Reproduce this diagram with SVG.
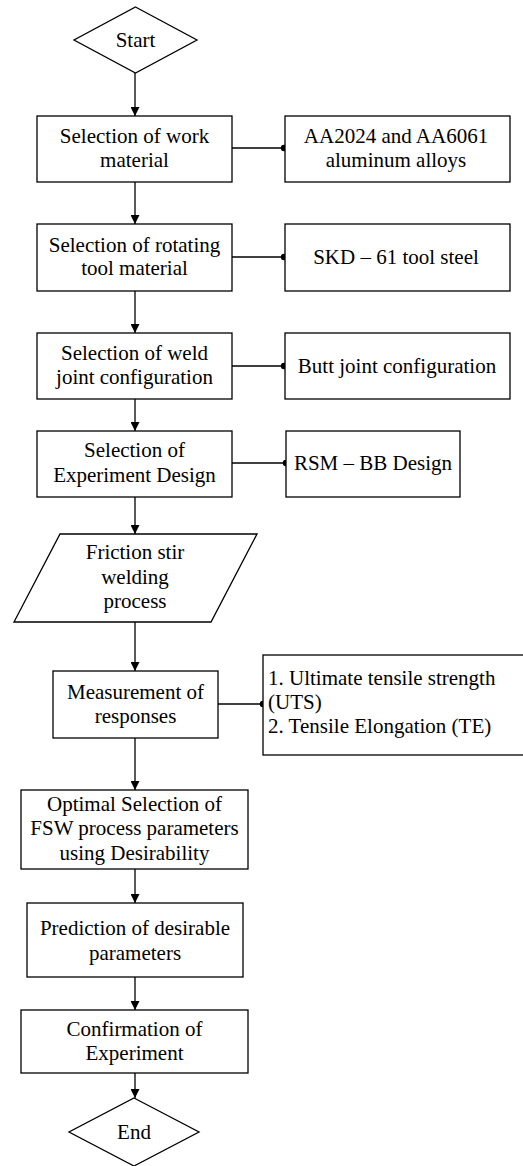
<svg xmlns="http://www.w3.org/2000/svg" width="523" height="1166" viewBox="0 0 523 1166">
<defs>
<marker id="arrow" markerUnits="userSpaceOnUse" markerWidth="9" markerHeight="9" refX="9" refY="4.5" orient="auto">
<path d="M0,0 L9,4.5 L0,9 Z" fill="#000"/>
</marker>
<marker id="dot" markerUnits="userSpaceOnUse" markerWidth="8" markerHeight="8" refX="4" refY="4">
<circle cx="4" cy="4" r="3.2" fill="#000"/>
</marker>
</defs>
<style>
.s{fill:#fff;stroke:#000;stroke-width:1.3}
text{font-family:'Liberation Serif','Times New Roman',Tinos,'DejaVu Serif',serif;font-size:21px;fill:#000}
.t{text-anchor:middle}
.l{text-anchor:start}
.c{fill:none;stroke:#000;stroke-width:1.3}
.a{marker-end:url(#arrow)}
.d{marker-end:url(#dot)}
</style>
<rect width="523" height="1166" fill="#fff"/>
<g id="connectors">
<line class="c a" x1="135" y1="73" x2="135" y2="116"/>
<line class="c a" x1="135" y1="182" x2="135" y2="224"/>
<line class="c a" x1="135" y1="291" x2="135" y2="333"/>
<line class="c a" x1="135" y1="399" x2="135" y2="431"/>
<line class="c a" x1="135" y1="497" x2="135" y2="534"/>
<line class="c a" x1="135" y1="622" x2="135" y2="671"/>
<line class="c a" x1="135" y1="738" x2="135" y2="790"/>
<line class="c a" x1="135" y1="869" x2="135" y2="903"/>
<line class="c a" x1="135" y1="977" x2="135" y2="1010"/>
<line class="c a" x1="135" y1="1073" x2="135" y2="1098"/>
<line class="c d" x1="232" y1="148" x2="284" y2="148"/>
<line class="c d" x1="232" y1="257" x2="284" y2="257"/>
<line class="c d" x1="232" y1="366" x2="284" y2="366"/>
<line class="c d" x1="232" y1="463" x2="286" y2="463"/>
<line class="c d" x1="218" y1="704" x2="263" y2="704"/>
</g>
<g id="start">
<polygon class="s" points="135.5,7 197,40 135.5,73 74,40"/>
<text class="t" x="135.5" y="47" font-family="Liberation Serif, serif">Start</text>
</g>
<g id="work-material">
<rect class="s" x="37" y="116" width="195" height="66"/>
<text class="t" x="134.5" y="143">Selection of work</text>
<text class="t" x="134.5" y="167">material</text>
</g>
<g id="alloys">
<rect class="s" x="285" y="116" width="225" height="66"/>
<text class="t" x="396" y="143">AA2024 and AA6061</text>
<text class="t" x="396" y="167">aluminum alloys</text>
</g>
<g id="tool-material">
<rect class="s" x="37" y="224" width="195" height="67"/>
<text class="t" x="134.5" y="252">Selection of rotating</text>
<text class="t" x="134.5" y="275">tool material</text>
</g>
<g id="tool-steel">
<rect class="s" x="285" y="224" width="225" height="67"/>
<text class="t" x="396" y="264">SKD – 61 tool steel</text>
</g>
<g id="weld-joint">
<rect class="s" x="37" y="333" width="195" height="66"/>
<text class="t" x="134.5" y="360">Selection of weld</text>
<text class="t" x="134.5" y="384">joint configuration</text>
</g>
<g id="butt-joint">
<rect class="s" x="285" y="333" width="225" height="66"/>
<text class="t" x="397" y="373">Butt joint configuration</text>
</g>
<g id="experiment-design">
<rect class="s" x="37" y="431" width="195" height="66"/>
<text class="t" x="134.5" y="457">Selection of</text>
<text class="t" x="134.5" y="482">Experiment Design</text>
</g>
<g id="rsm">
<rect class="s" x="286" y="431" width="174" height="66"/>
<text class="t" x="373" y="470">RSM – BB Design</text>
</g>
<g id="fsw-process">
<polygon class="s" points="60,534 257,534 211,622 14,622"/>
<text class="t" x="135" y="559">Friction stir</text>
<text class="t" x="135" y="584">welding</text>
<text class="t" x="135" y="608">process</text>
</g>
<g id="measurement">
<rect class="s" x="53" y="671" width="165" height="67"/>
<text class="t" x="135.5" y="699">Measurement of</text>
<text class="t" x="135.5" y="723">responses</text>
</g>
<g id="responses">
<rect class="s" x="263" y="655" width="265" height="100"/>
<text class="l" x="268" y="685">1. Ultimate tensile strength</text>
<text class="l" x="268" y="709">(UTS)</text>
<text class="l" x="268" y="733">2. Tensile Elongation (TE)</text>
</g>
<g id="optimal-selection">
<rect class="s" x="21" y="790" width="227" height="79"/>
<text class="t" x="134.5" y="811">Optimal Selection of</text>
<text class="t" x="134.5" y="835">FSW process parameters</text>
<text class="t" x="134.5" y="860">using Desirability</text>
</g>
<g id="prediction">
<rect class="s" x="27" y="903" width="216" height="74"/>
<text class="t" x="135" y="935">Prediction of desirable</text>
<text class="t" x="135" y="960">parameters</text>
</g>
<g id="confirmation">
<rect class="s" x="21" y="1010" width="227" height="63"/>
<text class="t" x="134.5" y="1036">Confirmation of</text>
<text class="t" x="134.5" y="1060">Experiment</text>
</g>
<g id="end">
<polygon class="s" points="134,1098 199,1132 134,1166 69,1132"/>
<text class="t" x="134" y="1139">End</text>
</g>
</svg>
